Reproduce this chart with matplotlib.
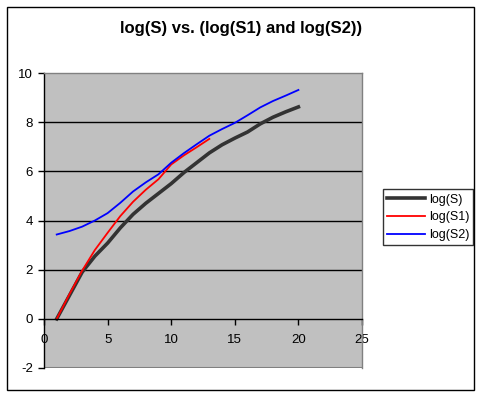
import matplotlib.pyplot as plt
from matplotlib.patches import Rectangle

plt.rcParams['font.family'] = ['Liberation Sans', 'DejaVu Sans']
plt.rcParams['axes.unicode_minus'] = False

# values
x_s = list(range(1, 21))
log_s = [0, 0.95, 1.9, 2.55, 3.08, 3.7, 4.25, 4.7, 5.1, 5.5,
         5.95, 6.35, 6.75, 7.08, 7.35, 7.6, 7.93, 8.2, 8.42, 8.62]
x_s1 = list(range(1, 14))
log_s1 = [0, 1.0, 1.96, 2.8, 3.5, 4.18, 4.76, 5.25, 5.68, 6.28,
          6.65, 6.98, 7.32]
x_s2 = list(range(1, 21))
log_s2 = [3.43, 3.57, 3.75, 4.0, 4.3, 4.72, 5.18, 5.55, 5.88, 6.35,
          6.74, 7.1, 7.45, 7.72, 7.97, 8.28, 8.6, 8.86, 9.08, 9.31]

W, H = 483, 398
fig = plt.figure(figsize=(W / 100, H / 100), dpi=100)
fig.patch.set_facecolor('white')

# outer chart border
fig.patches.append(Rectangle((7 / W, 1 - 390 / H), 467 / W, 383 / H,
                             transform=fig.transFigure, fill=False,
                             edgecolor='black', linewidth=1))

ax = fig.add_axes([44 / W, 1 - 368 / H, 318 / W, 295 / H])
ax.set_facecolor('#C0C0C0')

l1, = ax.plot(x_s, log_s, color='#333333', linewidth=2.6, label='log(S)')
l2, = ax.plot(x_s1, log_s1, color='#FF0000', linewidth=1.3, label='log(S1)')
l3, = ax.plot(x_s2, log_s2, color='#0000FF', linewidth=1.3, label='log(S2)')

ax.set_xlim(0, 25)
ax.set_ylim(-2, 10)
ax.set_xticks(range(0, 26, 5))
ax.set_yticks(range(-2, 11, 2))

for yv in [2, 4, 6, 8]:
    ax.axhline(yv, color='black', linewidth=1, zorder=0.5)
ax.axhline(-2, color='#808080', linewidth=1.5, zorder=0.5)

ax.spines['bottom'].set_position(('data', 0))
ax.spines['bottom'].set_color('black')
ax.spines['left'].set_color('black')
ax.spines['top'].set_color('#808080')
ax.spines['right'].set_color('#808080')
for s in ax.spines.values():
    s.set_linewidth(1)

ax.tick_params(axis='both', direction='out', length=4, width=1,
               labelsize=9.5, colors='black')
ax.tick_params(axis='x', pad=7)
ax.tick_params(axis='y', pad=4)

fig.text(241 / W, 1 - 29 / H, 'log(S) vs. (log(S1) and log(S2))',
         ha='center', va='center', fontsize=12, fontweight='bold')

leg = fig.legend(handles=[l1, l2, l3], loc='center left',
                 bbox_to_anchor=(383 / W, 1 - 217.5 / H), fontsize=9,
                 frameon=True, fancybox=False, edgecolor='black',
                 handlelength=3, handletextpad=0.3, borderpad=0.35,
                 labelspacing=0.45, borderaxespad=0)
leg.get_frame().set_linewidth(1)

fig.savefig('out.png', dpi=100)
